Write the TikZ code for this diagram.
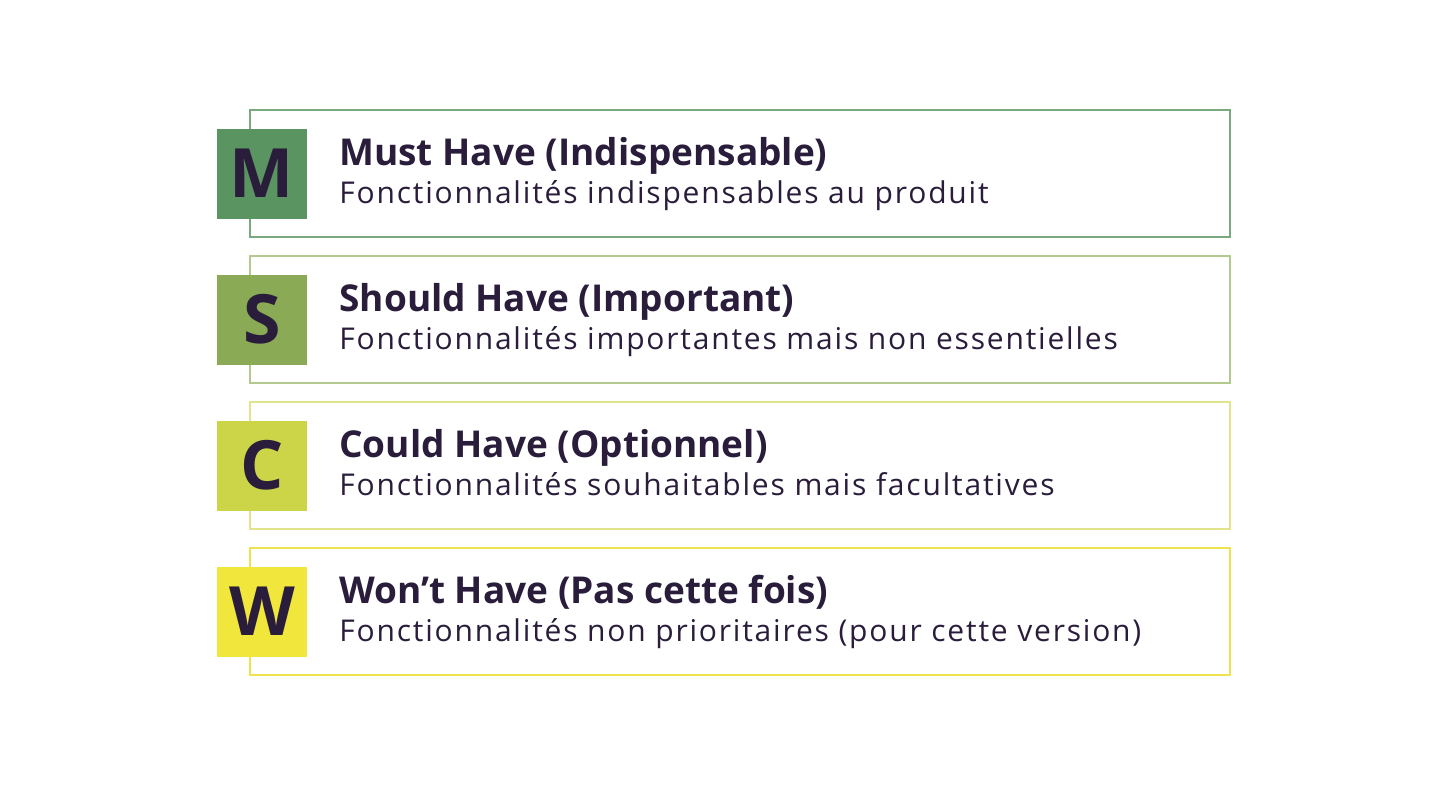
\documentclass[tikz,border=0pt]{standalone}
\usepackage{fontspec}
\setmainfont{Open Sans}
\newfontfamily\subfont[LetterSpace=6]{Open Sans}
\definecolor{ink}{HTML}{2A1D3B}
\definecolor{mfill}{HTML}{5A9460}
\definecolor{mline}{HTML}{7BA97F}
\definecolor{sfill}{HTML}{8AAA55}
\definecolor{sline}{HTML}{B3C98E}
\definecolor{cfill}{HTML}{CCD548}
\definecolor{cline}{HTML}{E2E48C}
\definecolor{wfill}{HTML}{F0E63C}
\definecolor{wline}{HTML}{EDE34C}
\tikzset{
  rowbox/.style={draw=#1, line width=1pt, minimum width=490pt, minimum height=63.5pt, inner sep=0pt},
  letterbox/.style={fill=#1, minimum size=45pt, inner sep=0pt, text=ink,
    font=\bfseries\fontsize{34}{34}\selectfont},
  headline/.style={anchor=base west, inner sep=0pt, text=ink, font=\bfseries\fontsize{18.5}{20}\selectfont},
  subline/.style={anchor=base west, inner sep=0pt, text=ink, font=\subfont\fontsize{15}{18}\selectfont}
}
\begin{document}
\begin{tikzpicture}[x=0.5pt,y=-0.5pt]
\useasboundingbox (0,0) rectangle (1448,784);
% Must
\node (mbox) [rowbox=mline] at (740,173.5) {};
\node (mkey) [letterbox=mfill] at (262,173.5) {M};
\node (mhead) [headline] at (339,165) {Must Have (Indispensable)};
\node (msub) [subline] at (339,203) {Fonctionnalités indispensables au produit};
% Should
\node (sbox) [rowbox=sline] at (740,319.5) {};
\node (skey) [letterbox=sfill] at (262,319.5) {S};
\node (shead) [headline] at (339,311) {Should Have (Important)};
\node (ssub) [subline] at (339,349) {Fonctionnalités importantes mais non essentielles};
% Could
\node (cbox) [rowbox=cline] at (740,465.5) {};
\node (ckey) [letterbox=cfill] at (262,465.5) {C};
\node (chead) [headline] at (339,457) {Could Have (Optionnel)};
\node (csub) [subline] at (339,495) {Fonctionnalités souhaitables mais facultatives};
% Won't
\node (wbox) [rowbox=wline] at (740,611.5) {};
\node (wkey) [letterbox=wfill] at (262,611.5) {W};
\node (whead) [headline] at (339,603) {Won’t Have (Pas cette fois)};
\node (wsub) [subline] at (339,641) {Fonctionnalités non prioritaires (pour cette version)};
\end{tikzpicture}
\end{document}
